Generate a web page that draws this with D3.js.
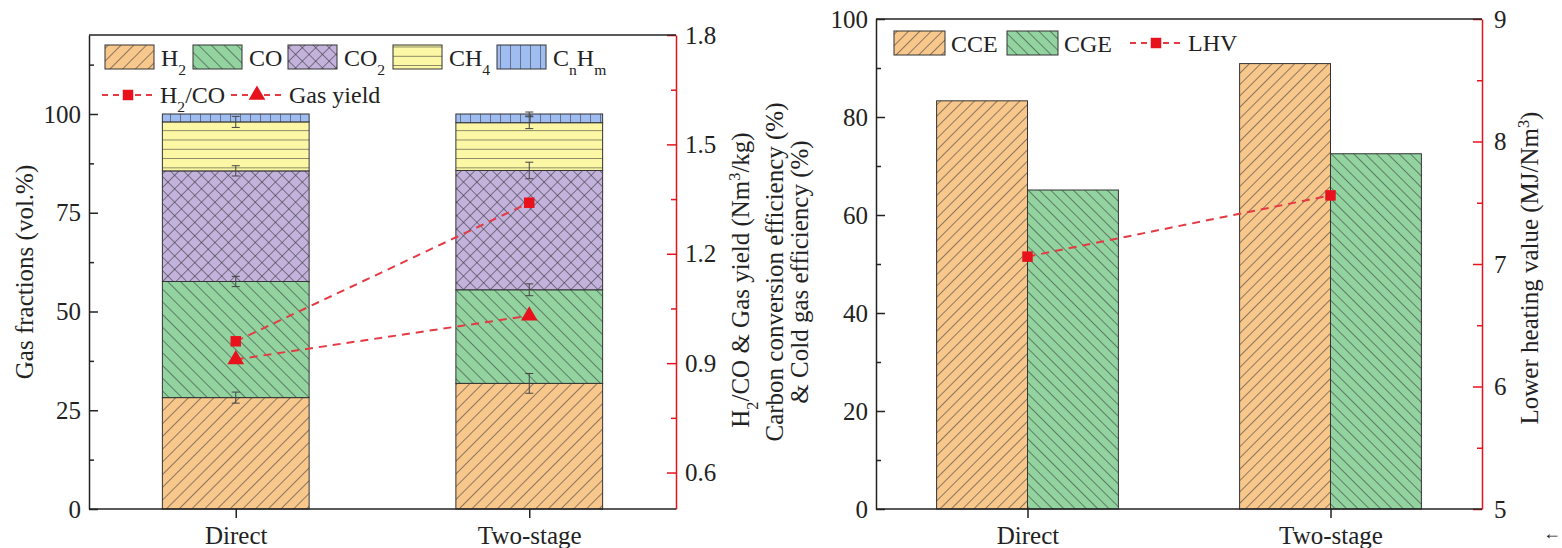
<!DOCTYPE html>
<html>
<head>
<meta charset="utf-8">
<title>Gas composition and efficiency</title>
<script src="https://d3js.org/d3.v7.min.js"></script>
<style>
  body { margin: 0; background: #fff; }
  svg, svg text { font-family: "Liberation Serif", "DejaVu Serif", serif !important; }
  svg text { fill: #222; }
</style>
</head>
<body>
<div id="chart"></div>
<script>
// categories and values
var categories = ["Direct", "Two-stage"];
var gasKeys = ["H2", "CO", "CO2", "CH4", "CnHm"];
var h2 = [28.2, 31.8];
var co = [29.4, 23.7];
var co2 = [28.0, 30.2];
var ch4 = [12.4, 12.1];
var cnhm = [2.0, 2.2];
var h2Err = [1.4, 2.5];
var coErr = [1.3, 1.5];
var co2Err = [1.3, 2.1];
var ch4Err = [1.4, 1.5];
var cnhmErr = [0, 0.5];
var h2coRatio = [0.96, 1.34];
var gasYield = [0.91, 1.03];

var effKeys = ["CCE", "CGE"];
var cce = [83.3, 90.9];
var cge = [65.1, 72.5];
var lhv = [7.06, 7.56];

var leftTicks = [0, 25, 50, 75, 100];
var rightTicks = [0.6, 0.9, 1.2, 1.5, 1.8];
var effTicks = [0, 20, 40, 60, 80, 100];
var lhvTicks = [5, 6, 7, 8, 9];

var W = 1562, H = 548;
var FS = 25;     // ticks and axis titles
var LFS = 24;    // legend
var SERIF = "'Liberation Serif', 'DejaVu Serif', serif";
var red = "#e8121c";
var dashRed = "#e43a44";

var svg = d3.select("#chart").append("svg")
  .attr("width", W).attr("height", H)
  .attr("font-family", SERIF);

// hatch patterns
var defs = svg.append("defs");
function hatch(id, fill, angle, size, cross) {
  var p = defs.append("pattern")
    .attr("id", id)
    .attr("patternUnits", "userSpaceOnUse")
    .attr("width", size).attr("height", size)
    .attr("patternTransform", "rotate(" + angle + ")");
  p.append("rect").attr("width", size).attr("height", size).attr("fill", fill);
  p.append("line").attr("x1", 0).attr("y1", 0).attr("x2", 0).attr("y2", size)
    .attr("stroke", "#333").attr("stroke-width", 1.1);
  if (cross) {
    p.append("line").attr("x1", 0).attr("y1", 0).attr("x2", size).attr("y2", 0)
      .attr("stroke", "#333").attr("stroke-width", 1.1);
  }
}
hatch("pH2", "#f8c78c", 45, 9, false);
hatch("pCO", "#92d3a0", -45, 9, false);
hatch("pCO2", "#c3b2dc", 45, 9.5, true);
hatch("pCH4", "#fbf7a4", 90, 9.3, false);
hatch("pCnHm", "#9fbdf1", 0, 10, false);
hatch("pCCE", "#f8c78c", 45, 8, false);
hatch("pCGE", "#92d3a0", -45, 8, false);

var fills = { H2: "url(#pH2)", CO: "url(#pCO)", CO2: "url(#pCO2)", CH4: "url(#pCH4)", CnHm: "url(#pCnHm)",
              CCE: "url(#pCCE)", CGE: "url(#pCGE)" };

function subLabel(sel, parts, fs) {
  // parts: [text, "sub"/"sup"/null]
  parts.forEach(function(p) {
    var t = sel.append("tspan").text(p[0]);
    if (p[1] == "sub") t.attr("baseline-shift", "sub").attr("font-size", fs * 0.65);
    if (p[1] == "sup") t.attr("baseline-shift", "super").attr("font-size", fs * 0.65);
  });
}

function styleAxis(g, color) {
  g.attr("font-family", SERIF).attr("font-size", FS);
  g.selectAll("path").attr("stroke", color).attr("stroke-width", 1.5);
  g.selectAll("line").attr("stroke", color).attr("stroke-width", 1.5);
  g.selectAll("text").attr("fill", "#222");
}

// ================= LEFT PANEL =================
var L = { x0: 89, x1: 676, y0: 35, y1: 509 };
var gL = svg.append("g");

var xL = d3.scalePoint().domain(categories).range([L.x0, L.x1]).padding(0.5);
var barW = xL.step() * 0.5;
var yL = d3.scaleLinear().domain([0, 120]).range([L.y1, L.y0]);
var yR = d3.scaleLinear().domain([0.5, 1.8]).range([L.y1, L.y0]);

var gasData = categories.map(function(c, i) {
  return { cat: c, H2: h2[i], CO: co[i], CO2: co2[i], CH4: ch4[i], CnHm: cnhm[i] };
});
var errs = { H2: h2Err, CO: coErr, CO2: co2Err, CH4: ch4Err, CnHm: cnhmErr };
var stack = d3.stack().keys(gasKeys)(gasData);

stack.forEach(function(layer) {
  gL.selectAll(null).data(layer).enter().append("rect")
    .attr("x", function(d) { return xL(d.data.cat) - barW / 2; })
    .attr("width", barW)
    .attr("y", function(d) { return yL(d[1]); })
    .attr("height", function(d) { return yL(d[0]) - yL(d[1]); })
    .attr("fill", fills[layer.key])
    .attr("stroke", "#333").attr("stroke-width", 1);
});

// error bars on segment tops
stack.forEach(function(layer) {
  layer.forEach(function(d, i) {
    var e = errs[layer.key][i];
    if (!e) return;
    var cx = xL(d.data.cat);
    var g = gL.append("g").attr("stroke", "#444").attr("stroke-width", 1);
    g.append("line").attr("x1", cx).attr("x2", cx).attr("y1", yL(d[1] - e)).attr("y2", yL(d[1] + e));
    g.append("line").attr("x1", cx - 4).attr("x2", cx + 4).attr("y1", yL(d[1] - e)).attr("y2", yL(d[1] - e));
    g.append("line").attr("x1", cx - 4).attr("x2", cx + 4).attr("y1", yL(d[1] + e)).attr("y2", yL(d[1] + e));
  });
});

// axes
var axL = gL.append("g").attr("transform", "translate(" + L.x0 + ",0)")
  .call(d3.axisLeft(yL).tickValues(leftTicks).tickSize(-9).tickSizeOuter(0).tickPadding(8));
styleAxis(axL, "#222");
var axLm = gL.append("g").attr("transform", "translate(" + L.x0 + ",0)")
  .call(d3.axisLeft(yL).tickValues([12.5, 37.5, 62.5, 87.5, 112.5]).tickSize(-5).tickFormat("").tickSizeOuter(0));
styleAxis(axLm, "#222");
axLm.select("path").remove();

var axR = gL.append("g").attr("transform", "translate(" + L.x1 + ",0)")
  .call(d3.axisRight(yR).tickValues(rightTicks).tickSize(-9).tickSizeOuter(0).tickPadding(9).tickFormat(d3.format(".1f")));
styleAxis(axR, red);
var axRm = gL.append("g").attr("transform", "translate(" + L.x1 + ",0)")
  .call(d3.axisRight(yR).tickValues([0.75, 1.05, 1.35, 1.65]).tickSize(-5).tickFormat("").tickSizeOuter(0));
styleAxis(axRm, red);
axRm.select("path").remove();

var axB = gL.append("g").attr("transform", "translate(0," + L.y1 + ")")
  .call(d3.axisBottom(xL).tickSize(9).tickSizeOuter(0).tickPadding(8));
styleAxis(axB, "#222");
axB.select("path").attr("d", "M" + L.x0 + ",0H" + L.x1);
gL.append("line").attr("x1", L.x0).attr("x2", L.x1).attr("y1", L.y0).attr("y2", L.y0)
  .attr("stroke", "#222").attr("stroke-width", 1.5);

// red dashed lines
function dashedSeries(g, xs, ys, vals, marker) {
  var pts = categories.map(function(c, i) { return [xs(c), ys(vals[i])]; });
  g.append("path").attr("d", d3.line()(pts)).attr("fill", "none")
    .attr("stroke", dashRed).attr("stroke-width", 2).attr("stroke-dasharray", "8,6");
  pts.forEach(function(p) {
    g.append("path").attr("transform", "translate(" + p[0] + "," + p[1] + ")")
      .attr("d", d3.symbol().type(marker).size(marker == d3.symbolTriangle ? 120 : 110)())
      .attr("fill", red);
  });
}
dashedSeries(gL, xL, yR, h2coRatio, d3.symbolSquare);
dashedSeries(gL, xL, yR, gasYield, d3.symbolTriangle);

// legend
var legBoxes = [
  { k: "H2", x: 105, label: [["H", null], ["2", "sub"]] },
  { k: "CO", x: 193, label: [["CO", null]] },
  { k: "CO2", x: 288, label: [["CO", null], ["2", "sub"]] },
  { k: "CH4", x: 393, label: [["CH", null], ["4", "sub"]] },
  { k: "CnHm", x: 497, label: [["C", null], ["n", "sub"], ["H", null], ["m", "sub"]] }
];
legBoxes.forEach(function(b) {
  gL.append("rect").attr("x", b.x).attr("y", 45).attr("width", 49).attr("height", 24)
    .attr("fill", fills[b.k]).attr("stroke", "#333").attr("stroke-width", 1);
  var t = gL.append("text").attr("x", b.x + 56).attr("y", 66).attr("font-size", LFS);
  subLabel(t, b.label, LFS);
});
function legendLine(g, x, y, marker, parts) {
  g.append("line").attr("x1", x).attr("x2", x + 50).attr("y1", y).attr("y2", y)
    .attr("stroke", dashRed).attr("stroke-width", 2).attr("stroke-dasharray", "6,5");
  g.append("path").attr("transform", "translate(" + (x + 26) + "," + y + ")")
    .attr("d", d3.symbol().type(marker).size(marker == d3.symbolTriangle ? 120 : 110)())
    .attr("fill", red);
  var t = g.append("text").attr("x", x + 58).attr("y", y + 8).attr("font-size", LFS);
  subLabel(t, parts, LFS);
}
legendLine(gL, 102, 95, d3.symbolSquare, [["H", null], ["2", "sub"], ["/CO", null]]);
legendLine(gL, 231, 95, d3.symbolTriangle, [["Gas yield", null]]);

// axis titles
gL.append("text").attr("transform", "translate(33,272) rotate(-90)")
  .attr("text-anchor", "middle").attr("font-size", FS).text("Gas fractions (vol.%)");
var tR = gL.append("text").attr("transform", "translate(749,280) rotate(-90)")
  .attr("text-anchor", "middle").attr("font-size", FS);
subLabel(tR, [["H", null], ["2", "sub"], ["/CO & Gas yield (Nm", null], ["3", "sup"], ["/kg)", null]], FS);

// ================= RIGHT PANEL =================
var R = { x0: 876, x1: 1482, y0: 19, y1: 509 };
var gR = svg.append("g");

var x0R = d3.scalePoint().domain(categories).range([R.x0, R.x1]).padding(0.5);
var grpW = x0R.step() * 0.6;
var x1R = d3.scaleBand().domain(effKeys).range([-grpW / 2, grpW / 2]);
var yE = d3.scaleLinear().domain([0, 100]).range([R.y1, R.y0]);
var yH = d3.scaleLinear().domain([5, 9]).range([R.y1, R.y0]);

var effData = categories.map(function(c, i) { return { cat: c, CCE: cce[i], CGE: cge[i] }; });
effData.forEach(function(d) {
  effKeys.forEach(function(k) {
    gR.append("rect")
      .attr("x", x0R(d.cat) + x1R(k))
      .attr("width", x1R.bandwidth())
      .attr("y", yE(d[k]))
      .attr("height", yE(0) - yE(d[k]))
      .attr("fill", fills[k]).attr("stroke", "#333").attr("stroke-width", 1);
  });
});

var axE = gR.append("g").attr("transform", "translate(" + R.x0 + ",0)")
  .call(d3.axisLeft(yE).tickValues(effTicks).tickSize(-9).tickSizeOuter(0).tickPadding(8));
styleAxis(axE, "#222");
var axEm = gR.append("g").attr("transform", "translate(" + R.x0 + ",0)")
  .call(d3.axisLeft(yE).tickValues([10, 30, 50, 70, 90]).tickSize(-5).tickFormat("").tickSizeOuter(0));
styleAxis(axEm, "#222");
axEm.select("path").remove();

var axH = gR.append("g").attr("transform", "translate(" + R.x1 + ",0)")
  .call(d3.axisRight(yH).tickValues(lhvTicks).tickSize(-9).tickSizeOuter(0).tickPadding(12).tickFormat(d3.format("d")));
styleAxis(axH, red);
var axHm = gR.append("g").attr("transform", "translate(" + R.x1 + ",0)")
  .call(d3.axisRight(yH).tickValues([5.5, 6.5, 7.5, 8.5]).tickSize(-5).tickFormat("").tickSizeOuter(0));
styleAxis(axHm, red);
axHm.select("path").remove();

var axB2 = gR.append("g").attr("transform", "translate(0," + R.y1 + ")")
  .call(d3.axisBottom(x0R).tickSize(9).tickSizeOuter(0).tickPadding(8));
styleAxis(axB2, "#222");
axB2.select("path").attr("d", "M" + R.x0 + ",0H" + R.x1);
gR.append("line").attr("x1", R.x0).attr("x2", R.x1).attr("y1", R.y0).attr("y2", R.y0)
  .attr("stroke", "#222").attr("stroke-width", 1.5);

dashedSeries(gR, x0R, yH, lhv, d3.symbolSquare);

// legend
[{ k: "CCE", x: 894 }, { k: "CGE", x: 1007 }].forEach(function(b) {
  gR.append("rect").attr("x", b.x).attr("y", 31).attr("width", 51).attr("height", 24)
    .attr("fill", fills[b.k]).attr("stroke", "#333").attr("stroke-width", 1);
  gR.append("text").attr("x", b.x + 57).attr("y", 52).attr("font-size", LFS).text(b.k);
});
legendLine(gR, 1130, 43, d3.symbolSquare, [["LHV", null]]);

// axis titles
gR.append("text").attr("transform", "translate(783,272) rotate(-90)")
  .attr("text-anchor", "middle").attr("font-size", FS).text("Carbon conversion efficiency (%)");
gR.append("text").attr("transform", "translate(808,272) rotate(-90)")
  .attr("text-anchor", "middle").attr("font-size", FS).text("& Cold gas efficiency (%)");
var tH = gR.append("text").attr("transform", "translate(1538,268) rotate(-90)")
  .attr("text-anchor", "middle").attr("font-size", FS);
subLabel(tH, [["Lower heating value (MJ/Nm", null], ["3", "sup"], [")", null]], FS);

svg.append("text").attr("x", 1543).attr("y", 539).attr("font-size", 18).attr("fill", "#999").text("\u2190");
</script>
</body>
</html>
